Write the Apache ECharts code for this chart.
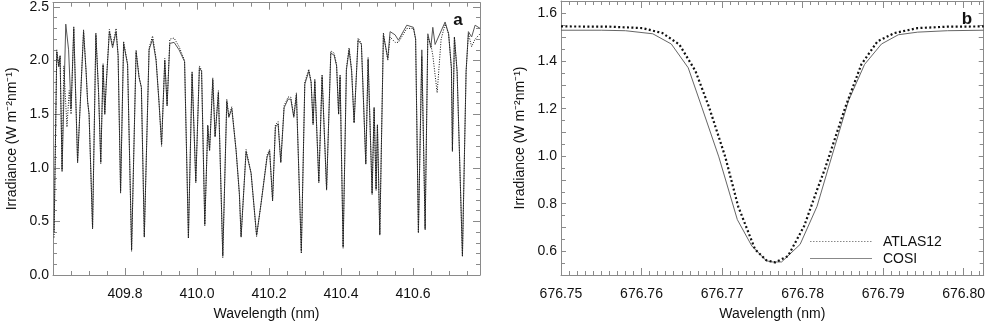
<!DOCTYPE html>
<html>
<head>
<meta charset="utf-8">
<script src="https://cdn.jsdelivr.net/npm/echarts@6/dist/echarts.min.js"></script>
<style>
  html, body { margin: 0; padding: 0; background: #fff; }
  #chart { width: 988px; height: 326px; }
</style>
</head>
<body>
<div id="chart"></div>
<script>
// panel a: 409.6 - 410.8 nm
const cosiWlA = [409.6030, 409.6105, 409.6161, 409.6197, 409.6252, 409.6355, 409.6433, 409.6502, 409.6577, 409.6683,
  409.6849, 409.6919, 409.6961, 409.7002, 409.7099, 409.7191, 409.7266, 409.7327, 409.7391, 409.7438,
  409.7474, 409.7566, 409.7655, 409.7752, 409.7808, 409.7877, 409.7961, 409.8072, 409.8183, 409.8308,
  409.8391, 409.8455, 409.8536, 409.8669, 409.8766, 409.8863, 409.8947, 409.9016, 409.9105, 409.9169,
  409.9244, 409.9363, 409.9502, 409.9655, 409.9761, 409.9863, 409.9966, 410.0066, 410.0127, 410.0216,
  410.0299, 410.0349, 410.0438, 410.0502, 410.0594, 410.0716, 410.0827, 410.0883, 410.0966, 410.1086,
  410.1177, 410.1224, 410.1363, 410.1502, 410.1655, 410.1780, 410.1947, 410.2016, 410.2099, 410.2177,
  410.2252, 410.2327, 410.2419, 410.2530, 410.2605, 410.2688, 410.2761, 410.2897, 410.2994, 410.3105,
  410.3169, 410.3224, 410.3272, 410.3383, 410.3474, 410.3599, 410.3716, 410.3808, 410.3877, 410.3933,
  410.3974, 410.4058, 410.4149, 410.4224, 410.4294, 410.4363, 410.4474, 410.4566, 410.4688, 410.4752,
  410.4863, 410.4919, 410.4974, 410.5011, 410.5077, 410.5177, 410.5299, 410.5363, 410.5502, 410.5594,
  410.5827, 410.6011, 410.6072, 410.6149, 410.6244, 410.6336, 410.6411, 410.6494, 410.6549, 410.6613,
  410.6891, 410.6988, 410.7066, 410.7094, 410.7149, 410.7224, 410.7372, 410.7474, 410.7538, 410.7627,
  410.7724, 410.7863];
const cosiA = [0.40, 2.08, 1.94, 2.04, 0.98, 2.34, 2.10, 1.55, 2.30, 1.05,
  2.27, 1.90, 1.62, 1.50, 0.44, 2.24, 1.70, 1.05, 1.96, 1.50,
  1.75, 2.27, 2.12, 2.27, 2.05, 0.78, 2.16, 1.96, 0.24, 2.08,
  1.84, 1.75, 0.36, 2.10, 2.20, 2.00, 1.60, 1.22, 2.00, 1.58,
  2.16, 2.17, 2.10, 1.99, 0.35, 1.88, 0.87, 1.93, 1.90, 0.47,
  1.39, 1.16, 1.82, 1.29, 1.70, 0.18, 1.62, 1.47, 1.55, 1.16,
  0.76, 0.36, 1.15, 0.95, 0.37, 0.67, 1.10, 1.16, 0.70, 1.38,
  1.41, 1.05, 1.56, 1.64, 1.64, 1.47, 1.68, 0.22, 1.78, 1.90,
  1.80, 1.41, 1.81, 0.87, 1.85, 0.80, 2.07, 2.05, 1.95, 1.50,
  1.85, 0.26, 1.91, 2.10, 1.90, 1.42, 2.19, 2.15, 1.04, 2.01,
  0.76, 1.56, 0.80, 1.40, 0.38, 2.24, 2.02, 2.27, 2.24, 2.19,
  2.33, 2.31, 2.20, 0.40, 2.10, 0.43, 2.25, 2.12, 2.31, 2.15,
  2.36, 2.25, 1.93, 1.16, 2.22, 1.90, 0.18, 1.90, 2.27, 2.22,
  2.33, 2.30];

const atlasWlA = [409.6030, 409.6105, 409.6161, 409.6197, 409.6252, 409.6300, 409.6388, 409.6450, 409.6502, 409.6577, 409.6683,
  409.6849, 409.6919, 409.6961, 409.7002, 409.7099, 409.7191, 409.7266, 409.7327, 409.7391, 409.7438,
  409.7474, 409.7566, 409.7655, 409.7752, 409.7808, 409.7877, 409.7961, 409.8072, 409.8183, 409.8308,
  409.8391, 409.8455, 409.8536, 409.8669, 409.8766, 409.8863, 409.8947, 409.9016, 409.9105, 409.9169,
  409.9244, 409.9363, 409.9502, 409.9655, 409.9761, 409.9863, 409.9966, 410.0066, 410.0127, 410.0216,
  410.0299, 410.0349, 410.0438, 410.0502, 410.0594, 410.0716, 410.0827, 410.0883, 410.0966, 410.1086,
  410.1177, 410.1224, 410.1363, 410.1502, 410.1655, 410.1780, 410.1947, 410.2016, 410.2099, 410.2177,
  410.2252, 410.2327, 410.2419, 410.2530, 410.2605, 410.2688, 410.2761, 410.2897, 410.2994, 410.3105,
  410.3169, 410.3224, 410.3272, 410.3383, 410.3474, 410.3599, 410.3716, 410.3808, 410.3877, 410.3933,
  410.3974, 410.4058, 410.4149, 410.4224, 410.4294, 410.4363, 410.4474, 410.4566, 410.4688, 410.4752,
  410.4863, 410.4919, 410.4974, 410.5011, 410.5077, 410.5177, 410.5299, 410.5363, 410.5502, 410.5594,
  410.5827, 410.6011, 410.6072, 410.6149, 410.6244, 410.6336, 410.6411, 410.6494, 410.6549, 410.6670,
  410.6780, 410.6891, 410.6988, 410.7066, 410.7094, 410.7149, 410.7224, 410.7372, 410.7474, 410.7538,
  410.7627, 410.7724, 410.7863];
const atlasA = [0.35, 2.10, 1.95, 2.05, 0.96, 1.95, 1.38, 1.72, 1.50, 2.32, 1.05,
  2.29, 1.90, 1.62, 1.50, 0.43, 2.26, 1.70, 1.04, 1.97, 1.50,
  1.76, 2.29, 2.14, 2.30, 2.05, 0.76, 2.18, 1.97, 0.22, 2.10,
  1.85, 1.75, 0.35, 2.12, 2.23, 2.02, 1.60, 1.20, 2.02, 1.58,
  2.20, 2.21, 2.13, 2.00, 0.34, 1.90, 0.86, 1.95, 1.91, 0.46,
  1.40, 1.16, 1.84, 1.29, 1.72, 0.16, 1.64, 1.48, 1.57, 1.16,
  0.75, 0.35, 1.17, 0.95, 0.36, 0.67, 1.12, 1.17, 0.69, 1.40,
  1.43, 1.05, 1.58, 1.66, 1.66, 1.48, 1.70, 0.20, 1.80, 1.92,
  1.80, 1.40, 1.83, 0.86, 1.87, 0.79, 2.09, 2.07, 1.96, 1.50,
  1.87, 0.25, 1.93, 2.12, 1.92, 1.42, 2.21, 2.16, 1.03, 2.03,
  0.75, 1.56, 0.79, 1.40, 0.37, 2.26, 2.00, 2.22, 2.17, 2.17,
  2.30, 2.30, 2.20, 0.39, 2.04, 0.42, 2.22, 2.15, 2.05, 1.70,
  2.20, 2.34, 2.25, 1.93, 1.15, 2.22, 1.90, 0.17, 1.90, 2.25,
  2.13, 2.20, 2.25];

// panel b: 676.75 - 676.80 nm
const cosiWlB = [676.7500, 676.7550, 676.7580, 676.7614, 676.7637, 676.7658, 676.7675, 676.7696, 676.7719, 676.7737,
  676.7755, 676.7762, 676.7774, 676.7797, 676.7818, 676.7832, 676.7857, 676.7877, 676.7898, 676.7919,
  676.7943, 676.7980, 676.8025];
const cosiB = [1.530, 1.530, 1.528, 1.515, 1.472, 1.372, 1.205, 0.997, 0.733, 0.622,
  0.560, 0.555, 0.555, 0.629, 0.789, 0.950, 1.233, 1.386, 1.472, 1.511,
  1.522, 1.528, 1.530];
const atlasWlB = [676.7500, 676.7560, 676.7601, 676.7626, 676.7647, 676.7667, 676.7684, 676.7704, 676.7720, 676.7741,
  676.7755, 676.7766, 676.7782, 676.7802, 676.7818, 676.7828, 676.7853, 676.7873, 676.7893, 676.7914,
  676.7943, 676.7980, 676.8025];
const atlasB = [1.546, 1.545, 1.539, 1.518, 1.470, 1.358, 1.205, 0.997, 0.789, 0.608,
  0.562, 0.553, 0.580, 0.706, 0.858, 0.949, 1.205, 1.386, 1.483, 1.518,
  1.539, 1.545, 1.546];

const xLabelsA = ['409.8', '410.0', '410.2', '410.4', '410.6'];
const yLabelsA = ['0.0', '0.5', '1.0', '1.5', '2.0', '2.5'];
const xLabelsB = ['676.75', '676.76', '676.77', '676.78', '676.79', '676.80'];
const yLabelsB = ['0.6', '0.8', '1.0', '1.2', '1.4', '1.6'];

const pairs = (xs, ys) => xs.map((x, i) => [x, ys[i]])

const pick = (labels, digits) => v => {
  const s = v.toFixed(digits)
  return labels.includes(s) && Math.abs(v - parseFloat(s)) < 1e-6 ? s : ''
}

const axisColor = '#8a8a8a'
const font = 'Liberation Sans, Arial, Helvetica, sans-serif'
const yName = 'Irradiance (W m⁻²nm⁻¹)'

const baseAxis = (extra) => Object.assign({
  type: 'value',
  axisLine: { show: true, onZero: false, lineStyle: { color: axisColor, width: 1 } },
  axisTick: { show: true, inside: true, length: 7, lineStyle: { color: axisColor } },
  minorTick: { show: true, length: 4, lineStyle: { color: axisColor } },
  splitLine: { show: false },
  minorSplitLine: { show: false },
  axisLabel: { color: '#111', fontSize: 14, fontFamily: font },
  nameTextStyle: { color: '#111', fontSize: 14, fontFamily: font }
}, extra)

const mirror = (extra) => baseAxis(Object.assign({ axisLabel: { show: false } }, extra))

const chart = echarts.init(document.getElementById('chart'))

const option = {
  animation: false,
  backgroundColor: '#fff',
  textStyle: { fontFamily: font },
  grid: [
    { left: 53, right: 508, top: 1, bottom: 49 },
    { left: 561, right: 2, top: 1, bottom: 49 }
  ],
  xAxis: [
    baseAxis({
      gridIndex: 0, position: 'bottom', min: 409.6, max: 410.786, interval: 0.2,
      minorTick: { show: true, splitNumber: 4, length: 4, lineStyle: { color: axisColor } },
      axisLabel: { color: '#111', fontSize: 14, fontFamily: font, margin: 12, formatter: pick(xLabelsA, 1) },
      name: 'Wavelength (nm)', nameLocation: 'middle', nameGap: 32
    }),
    mirror({
      gridIndex: 0, position: 'top', min: 409.6, max: 410.786, interval: 0.2,
      minorTick: { show: true, splitNumber: 4, length: 4, lineStyle: { color: axisColor } }
    }),
    baseAxis({
      gridIndex: 1, position: 'bottom', min: 676.75, max: 676.8025, interval: 0.01,
      minorTick: { show: true, splitNumber: 10, length: 4, lineStyle: { color: axisColor } },
      axisLabel: { color: '#111', fontSize: 14, fontFamily: font, margin: 12, formatter: pick(xLabelsB, 2) },
      name: 'Wavelength (nm)', nameLocation: 'middle', nameGap: 32
    }),
    mirror({
      gridIndex: 1, position: 'top', min: 676.75, max: 676.8025, interval: 0.01,
      minorTick: { show: true, splitNumber: 10, length: 4, lineStyle: { color: axisColor } }
    })
  ],
  yAxis: [
    baseAxis({
      gridIndex: 0, position: 'left', min: 0, max: 2.54, interval: 0.5,
      minorTick: { show: true, splitNumber: 5, length: 4, lineStyle: { color: axisColor } },
      axisLabel: { color: '#111', fontSize: 14, fontFamily: font, margin: 4, formatter: pick(yLabelsA, 1) },
      name: yName, nameLocation: 'middle', nameGap: 34
    }),
    mirror({
      gridIndex: 0, position: 'right', min: 0, max: 2.54, interval: 0.5,
      minorTick: { show: true, splitNumber: 5, length: 4, lineStyle: { color: axisColor } }
    }),
    baseAxis({
      gridIndex: 1, position: 'left', min: 0.5, max: 1.653, interval: 0.1,
      axisTick: { show: true, inside: true, length: 5, lineStyle: { color: axisColor } },
      minorTick: { show: true, splitNumber: 2, length: 4, lineStyle: { color: axisColor } },
      axisLabel: { color: '#111', fontSize: 14, fontFamily: font, margin: 4, formatter: pick(yLabelsB, 1) },
      name: yName, nameLocation: 'middle', nameGap: 34
    }),
    mirror({
      gridIndex: 1, position: 'right', min: 0.5, max: 1.653, interval: 0.1,
      axisTick: { show: true, inside: true, length: 5, lineStyle: { color: axisColor } },
      minorTick: { show: true, splitNumber: 2, length: 4, lineStyle: { color: axisColor } }
    })
  ],
  // panel letters and the little legend of panel b
  graphic: [
    { type: 'text', style: { text: 'a', x: 458, y: 20, align: 'center', verticalAlign: 'middle', font: 'bold 17px ' + font, fill: '#111' } },
    { type: 'text', style: { text: 'b', x: 967, y: 19, align: 'center', verticalAlign: 'middle', font: 'bold 17px ' + font, fill: '#111' } },
    { type: 'line', shape: { x1: 810, y1: 241.5, x2: 872, y2: 241.5 }, style: { stroke: '#888', lineWidth: 1, lineDash: [1.5, 1.5] } },
    { type: 'text', style: { text: 'ATLAS12', x: 883, y: 242, verticalAlign: 'middle', font: '14px ' + font, fill: '#111' } },
    { type: 'line', shape: { x1: 810, y1: 258.5, x2: 872, y2: 258.5 }, style: { stroke: '#888', lineWidth: 1 } },
    { type: 'text', style: { text: 'COSI', x: 883, y: 259, verticalAlign: 'middle', font: '14px ' + font, fill: '#111' } }
  ],
  series: [
    {
      name: 'COSI', type: 'line', xAxisIndex: 2, yAxisIndex: 2,
      data: pairs(cosiWlB, cosiB), showSymbol: false, symbol: 'none',
      lineStyle: { color: '#666', width: 1 }
    },
    {
      name: 'ATLAS12', type: 'line', xAxisIndex: 2, yAxisIndex: 2,
      data: pairs(atlasWlB, atlasB), showSymbol: false, symbol: 'none',
      lineStyle: { color: '#111', width: 2.2, type: [2, 2.4] }
    },
    {
      name: 'COSI', type: 'line', xAxisIndex: 0, yAxisIndex: 0,
      data: pairs(cosiWlA, cosiA), showSymbol: false, symbol: 'none',
      lineStyle: { color: '#555', width: 1 }
    },
    {
      name: 'ATLAS12', type: 'line', xAxisIndex: 0, yAxisIndex: 0,
      data: pairs(atlasWlA, atlasA), showSymbol: false, symbol: 'none',
      lineStyle: { color: '#111', width: 1, type: [1, 1.5] }
    }
  ]
}

chart.setOption(option)
</script>
</body>
</html>
